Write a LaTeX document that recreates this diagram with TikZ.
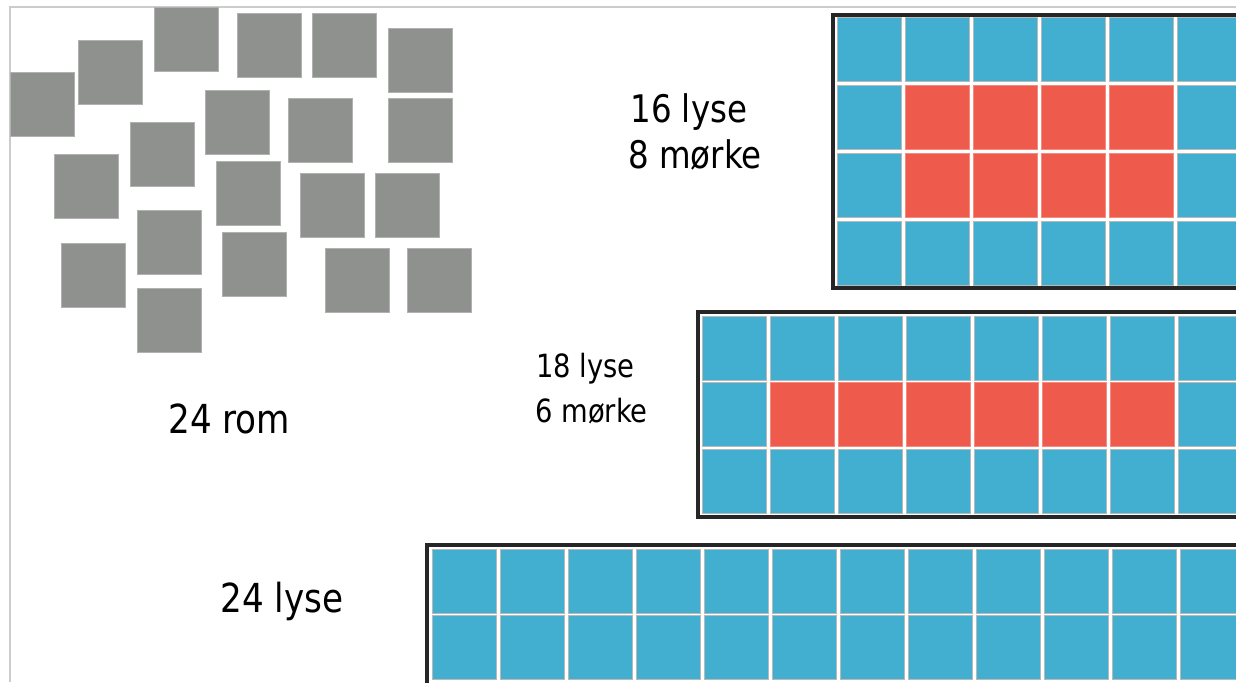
\documentclass[tikz,border=0pt]{standalone}
\usepackage{fontspec}
\setmainfont{DejaVu Sans Condensed}[FakeStretch=0.95]
\definecolor{lys}{HTML}{42AED0}
\definecolor{mork}{HTML}{EE5A4B}
\definecolor{rom}{HTML}{8E918E}
\tikzset{
	cell/.style={draw=gray!55, line width=0.5pt},
	ramme/.style={draw=black!85, line width=2pt},
	tekst/.style={anchor=base west, inner sep=0pt},
}
\begin{document}
\begin{tikzpicture}[x=0.5pt, y=-0.5pt]
		\useasboundingbox (0,0) rectangle (1236,682);
		\clip (0,0) rectangle (1236,682);
		\fill[white] (0,0) rectangle (1236,682);
		\draw[gray!40, line width=0.6pt] (10,682) |- (1236,7);

		\foreach \x/\y in {10/72,78/40,154/7,237/13,312/13,388/28,205/90,288/98,388/98,130/122,
			54/154,216/161,300/173,375/173,137/210,222/232,61/243,325/248,407/248,137/288}
			\draw[cell, fill=rom, draw=rom!70!white] (\x,\y) rectangle ++(64,64);

		\foreach \c in {0,...,5} \foreach \r in {0,...,3}
			\draw[cell, fill=lys] (837+68*\c, 17+68*\r) rectangle ++(64,64);
		\foreach \c in {1,...,4} \foreach \r in {1,2}
			\draw[cell, fill=mork, draw=mork!70!white] (837+68*\c, 17+68*\r) rectangle ++(64,64);
		\draw[ramme] (833,14.5) rectangle (1270,288);

		\foreach \c in {0,...,7} \foreach \r in {0,...,2}
			\draw[cell, fill=lys] (702+68*\c, 316+66.5*\r) rectangle ++(64,64);
		\foreach \c in {1,...,6}
			\draw[cell, fill=mork, draw=mork!70!white] (702+68*\c, 382.5) rectangle ++(64,64);
		\draw[ramme] (698,312) rectangle (1270,517);

		\foreach \c in {0,...,11} \foreach \r in {0,1}
			\draw[cell, fill=lys] (432+68*\c, 549+66*\r) rectangle ++(64,64);
		\draw[ramme] (427,545) rectangle (1270,720);

		\node[tekst, font=\fontsize{20pt}{24pt}\selectfont] (rom24) at (168,433) {24 rom};
		\node[tekst, font=\fontsize{20pt}{24pt}\selectfont] (lyse24) at (220,612) {24 lyse};
		\node[tekst, font=\fontsize{19pt}{22pt}\selectfont] (lyse16) at (630,122) {16 lyse};
		\node[tekst, font=\fontsize{19pt}{22pt}\selectfont] (morke8) at (628,168) {8 mørke};
		\node[tekst, font=\fontsize{16pt}{20pt}\selectfont] (lyse18) at (536,377) {18 lyse};
		\node[tekst, font=\fontsize{16pt}{20pt}\selectfont] (morke6) at (535,422) {6 mørke};
	\end{tikzpicture}
\end{document}
